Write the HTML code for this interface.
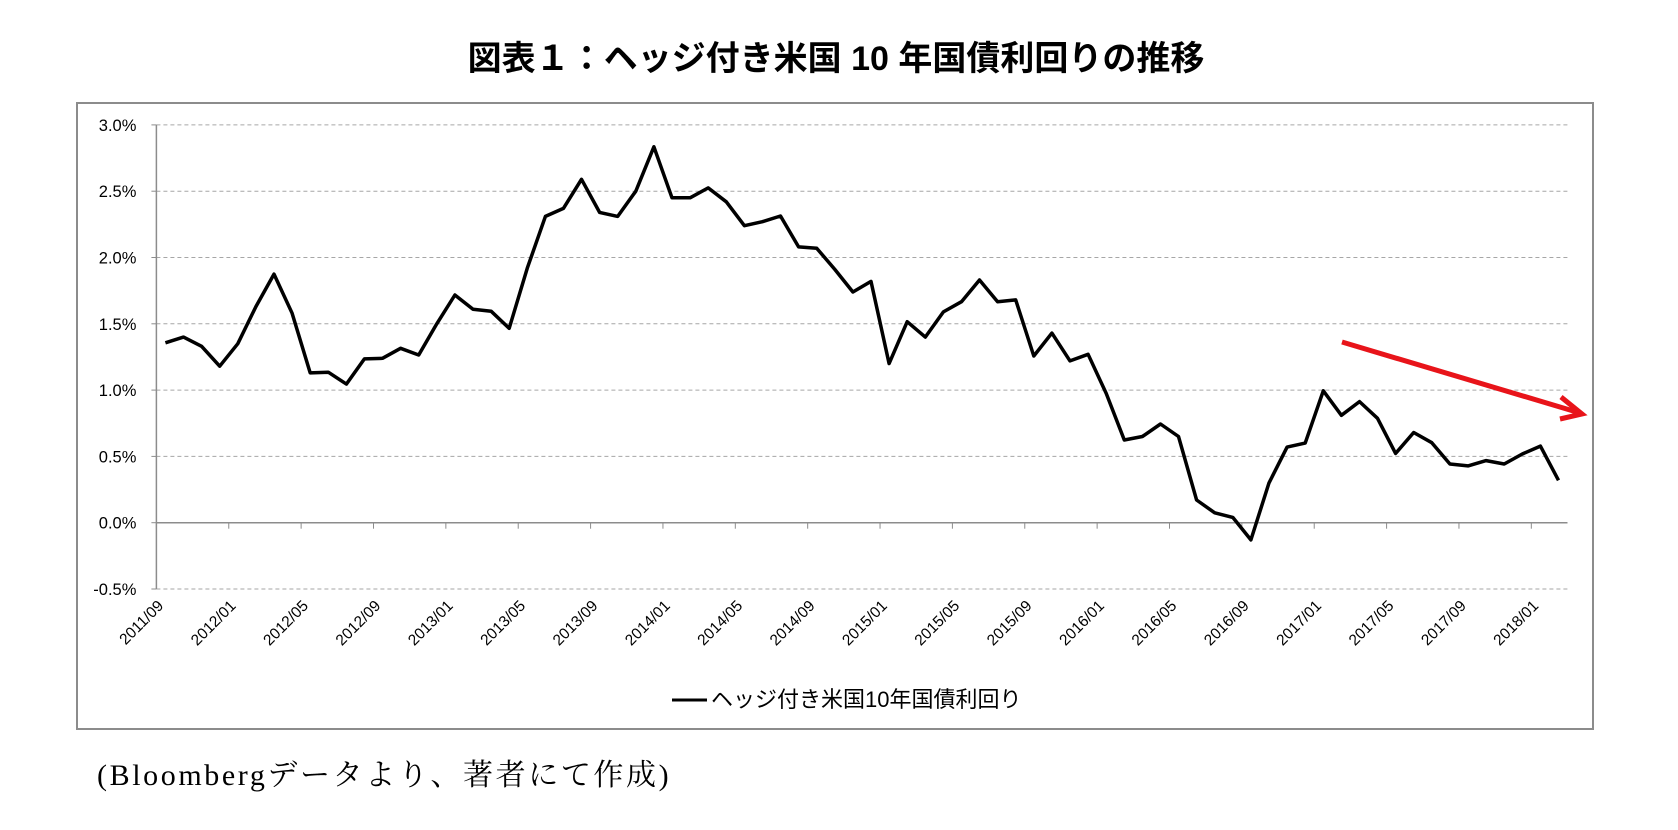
<!DOCTYPE html>
<html><head><meta charset="utf-8">
<style>
html,body{margin:0;padding:0;background:#fff;}
svg{display:block;}
text{font-family:"Liberation Sans","Noto Sans CJK JP",sans-serif;}
</style></head>
<body>
<svg id="chart" width="1678" height="830" viewBox="0 0 1678 830" xmlns="http://www.w3.org/2000/svg">
<text x="836" y="70" text-anchor="middle" font-size="34" font-weight="bold" style="font-family:'Liberation Sans','Noto Sans CJK JP',sans-serif">図表１：ヘッジ付き米国 10 年国債利回りの推移</text>
<rect x="77" y="103" width="1516" height="626" fill="none" stroke="#8c8c8c" stroke-width="2"/>
<g id="grid"></g>
<g id="axes"></g>
<g id="series"></g>
<g stroke="#e8141a" stroke-width="5" fill="none" stroke-linecap="butt">
<line x1="1342" y1="342" x2="1580" y2="413"/>
<polyline points="1561,397 1582,414 1560,419"/>
</g>
<g>
<line x1="672" y1="700" x2="707" y2="700" stroke="#000" stroke-width="3"/>
<text x="711" y="707" font-size="22">ヘッジ付き米国10年国債利回り</text>
</g>
<text x="97" y="785" font-size="30" letter-spacing="2.6" style="font-family:'Liberation Serif','Noto Serif CJK SC',serif">(Bloombergデータより、著者にて作成)</text>
</svg>
<script>
const values = [1.357,1.40,1.33,1.18,1.35,1.63,1.875,1.58,1.13,1.135,1.045,1.235,1.24,1.315,1.265,1.50,1.717,1.61,1.595,1.466,
1.92,2.31,2.37,2.59,2.34,2.31,2.50,2.835,2.45,2.45,2.525,2.42,2.24,2.27,2.313,2.08,2.07,1.91,1.74,1.82,
1.20,1.516,1.40,1.59,1.667,1.83,1.667,1.68,1.257,1.43,1.22,1.27,0.975,0.624,0.65,0.744,0.65,0.171,0.075,0.04,
-0.13,0.30,0.57,0.60,0.995,0.81,0.913,0.787,0.523,0.68,0.603,0.443,0.428,0.468,0.443,0.518,0.578,0.32];
const startYear = 2011, startMonth = 9;
const yTicks = [-0.5,0,0.5,1.0,1.5,2.0,2.5,3.0];
const yTickLabels = ["-0.5%","0.0%","0.5%","1.0%","1.5%","2.0%","2.5%","3.0%"];
const labelEvery = 4;

const NS = "http://www.w3.org/2000/svg";
const X0 = 156.4, X1 = 1567.5, Y0 = 522.7, PXPER = 132.6;
const n = values.length;
const step = (X1 - X0) / n;
const xScale = i => X0 + step * (i + 0.5);
const xTick = i => X0 + step * i;
const yScale = v => Y0 - v * PXPER;
function mk(tag, attrs, parent){const e=document.createElementNS(NS,tag);for(const k in attrs)e.setAttribute(k,attrs[k]);parent.appendChild(e);return e;}
const grid=document.getElementById('grid'), axes=document.getElementById('axes'), series=document.getElementById('series');
yTicks.forEach((t,k)=>{
  const y=yScale(t);
  if(t!==0){
    const g=mk('line',{x1:X0,x2:X1,y1:y,y2:y,stroke:'#a6a6a6','stroke-width':1,'stroke-dasharray':'4,3'},grid);
    
    
  }
  const tl=mk('line',{x1:X0-5,x2:X0,y1:y,y2:y,stroke:'#8c8c8c','stroke-width':1},axes);
  
  
  const tx=mk('text',{x:X0-20,y:y+6,'text-anchor':'end','font-size':16.5},axes);
  tx.textContent=yTickLabels[k];
  
  
});
const ya=mk('line',{x1:X0,x2:X0,y1:yScale(3.0),y2:yScale(-0.5),stroke:'#8c8c8c','stroke-width':1.5},axes);


const xa=mk('line',{x1:X0,x2:X1,y1:Y0,y2:Y0,stroke:'#8c8c8c','stroke-width':1.5},axes);


for(let i=0;i<n;i+=labelEvery){
  const x=xTick(i);
  const t=mk('line',{x1:x,x2:x,y1:Y0,y2:Y0+6,stroke:'#8c8c8c','stroke-width':1},axes);
  
  
  const m=(startMonth-1+i)%12+1, yr=startYear+Math.floor((startMonth-1+i)/12);
  const lab=yr+'/'+String(m).padStart(2,'0');
  const tx=mk('text',{x:x+8,y:Y0+84,'text-anchor':'end','font-size':15.5,transform:`rotate(-45 ${x+8} ${Y0+84})`},axes);
  tx.textContent=lab;
  
  
}
const pts=values.map((v,i)=>xScale(i).toFixed(1)+','+yScale(v).toFixed(1)).join(' ');
const line=mk('polyline',{points:pts,fill:'none',stroke:'#000','stroke-width':3.5,'stroke-linejoin':'round'},series);


</script>
</body></html>
